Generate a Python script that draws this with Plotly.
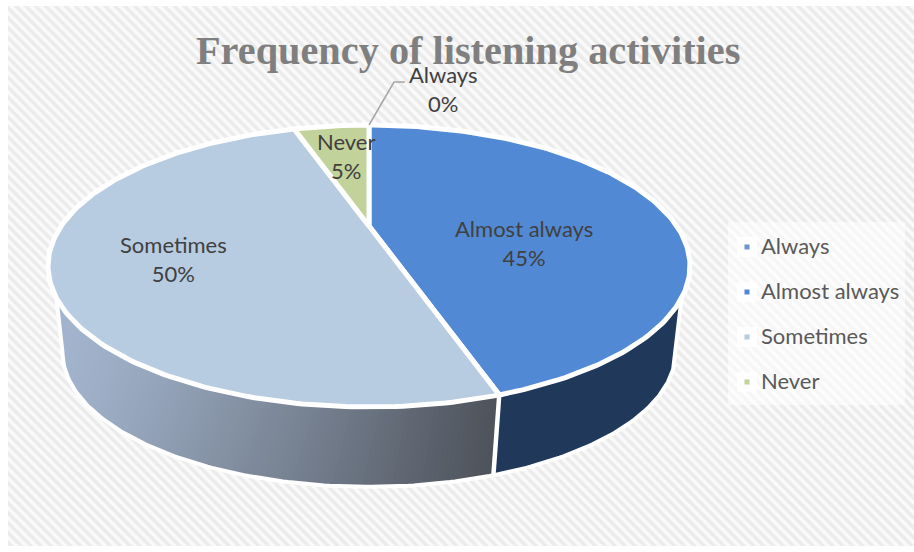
import numpy as np
import plotly.graph_objects as go

categories = ["Always", "Almost always", "Sometimes", "Never"]
values = [0, 45, 50, 5]
top_colors = ["#5b86c2", "#5289d4", "#b7cbe1", "#c1d29a"]
legend_colors = ["#6f95c8", "#4f87d4", "#b7cbe1", "#c1d29a"]
TITLE = "Frequency of listening activities"

W, H = 914, 552
CX, CY = 369.0, 226.0
A, B, K = 307.8, 129.65, 0.2837
S, DY = 0.955, 88.0


def top(th):
    u, v = np.sin(th), -np.cos(th)
    d = 1 - K * v
    return CX + A * u / d, CY + B * v / d


def low(th):
    x, y = top(th)
    return CX + S * (x - CX), CY + DY + S * (y - CY)


def poly(x, y, fill, line="rgba(0,0,0,0)", lw=0):
    return go.Scatter(x=list(x), y=list(y), mode="lines", fill="toself", fillcolor=fill,
                      line=dict(color=line, width=lw), hoverinfo="skip", showlegend=False)


def white(x, y, lw):
    return go.Scatter(x=list(x), y=list(y), mode="lines", line=dict(color="white", width=lw),
                      hoverinfo="skip", showlegend=False)


fig = go.Figure()

# hatched background
fig.add_trace(go.Scatter(x=[8, 914, 914, 8, 8], y=[6, 6, 546, 546, 6], mode="lines", fill="toself",
                         fillcolor="#ffffff", line=dict(width=0), hoverinfo="skip", showlegend=False,
                         fillpattern=dict(shape="\\", fgcolor="#dcdcdc", bgcolor="#fafafa", size=7, solidity=0.5)))

# slice angles from the values
tot = sum(values)
edges = np.concatenate([[0], np.cumsum(values)]) / tot * 2 * np.pi
spans = {c: (edges[i], edges[i + 1]) for i, c in enumerate(categories)}

# silhouette angles of the wall, right and left
LOW_R, TOP_R = np.arccos(-K), np.arccos(-0.48)
LOW_L, TOP_L = 2 * np.pi - LOW_R, 2 * np.pi - TOP_R

# right wall
seam = spans["Almost always"][1]
xt, yt = top(np.linspace(TOP_R, seam, 60))
xl, yl = low(np.linspace(seam, LOW_R, 60))
fig.add_trace(poly(np.r_[xt, xl], np.r_[yt, yl], "#203859"))

# left wall, shaded along x
N = 130
tt = np.linspace(seam, TOP_L, N)
tl = np.linspace(seam, LOW_L, N)
xt, yt = top(tt)
xl, yl = low(tl)
c_left, c_right = np.array([163, 181, 206]), np.array([78, 82, 90])
x_min, x_max = xl.min(), xl[0]
for i in range(N - 1):
    f = np.clip((0.5 * (xl[i] + xl[i + 1]) - x_min) / (x_max - x_min), 0, 1)
    r, g, b = (c_left + (c_right - c_left) * f).astype(int)
    col = f"rgb({r},{g},{b})"
    fig.add_trace(poly([xt[i], xt[i + 1], xl[i + 1], xl[i], xt[i]],
                       [yt[i], yt[i + 1], yl[i + 1], yl[i], yt[i]], col, col, 1))

# white rim of the walls and the seam between them
xr, yr = top(TOP_R)
xe, ye = top(TOP_L)
xl, yl = low(np.linspace(LOW_R, LOW_L, 200))
fig.add_trace(white(np.r_[xr, xl, xe], np.r_[yr, yl, ye], 4))
x0, y0 = top(seam)
x1, y1 = low(seam)
fig.add_trace(white([x0, x1], [y0, y1], 4.5))

# top face
for c, col in zip(categories, top_colors):
    a0, a1 = spans[c]
    if a1 <= a0:
        continue
    t = np.linspace(a0, a1, max(2, int((a1 - a0) * 60)))
    x, y = top(t)
    fig.add_trace(poly(np.r_[CX, x, CX], np.r_[CY, y, CY], col, "white", 5))

# leader line for the 0% slice
fig.add_trace(go.Scatter(x=[369, 394, 405], y=[125, 82, 82], mode="lines",
                         line=dict(color="#a6a6a6", width=1.5), hoverinfo="skip", showlegend=False))

# legend backing and keys
fig.add_trace(poly([728, 905, 905, 728, 728], [222, 222, 405, 405, 222], "rgba(255,255,255,0.55)"))
leg_y = [247, 292, 337, 382]
fig.add_trace(go.Scatter(x=[747] * 4, y=leg_y, mode="markers",
                         marker=dict(symbol="square", size=20, color="rgba(255,255,255,0.8)"),
                         hoverinfo="skip", showlegend=False))
fig.add_trace(go.Scatter(x=[747] * 4, y=leg_y, mode="markers", marker=dict(symbol="square", size=5, color=legend_colors),
                         text=categories, hoverinfo="text", showlegend=False))

FONT = "Lato, 'Open Sans', sans-serif"
ann = []
for c, y in zip(categories, leg_y):
    ann.append(dict(x=759, y=y - 2, text=c, xanchor="left", yanchor="middle", showarrow=False,
                    font=dict(family=FONT, size=22, color="#595959")))

label_pos = {"Always": (443, 89), "Almost always": (524, 243), "Sometimes": (173, 259), "Never": (346, 156)}
for c, v in zip(categories, values):
    x, y = label_pos[c]
    ann.append(dict(x=x, y=y, text=f"{c}<br>{v}%", xanchor="center", yanchor="middle", showarrow=False, align="center",
                    font=dict(family=FONT, size=22, color="#404040")))

ann.append(dict(x=468, y=50, text=f"<b>{TITLE}</b>", xanchor="center", yanchor="middle", showarrow=False,
                font=dict(family="'Liberation Serif', serif", size=40.3, color="#7f7f7f")))

fig.update_layout(width=W, height=H, margin=dict(l=0, r=0, t=0, b=0), paper_bgcolor="white", plot_bgcolor="white",
                  showlegend=False, annotations=ann,
                  xaxis=dict(range=[0, W], visible=False, fixedrange=True),
                  yaxis=dict(range=[H, 0], visible=False, fixedrange=True))
fig.write_html("out.html", config={"displayModeBar": False},
               post_script="document.body.style.margin='0';document.documentElement.style.overflow='hidden';")
